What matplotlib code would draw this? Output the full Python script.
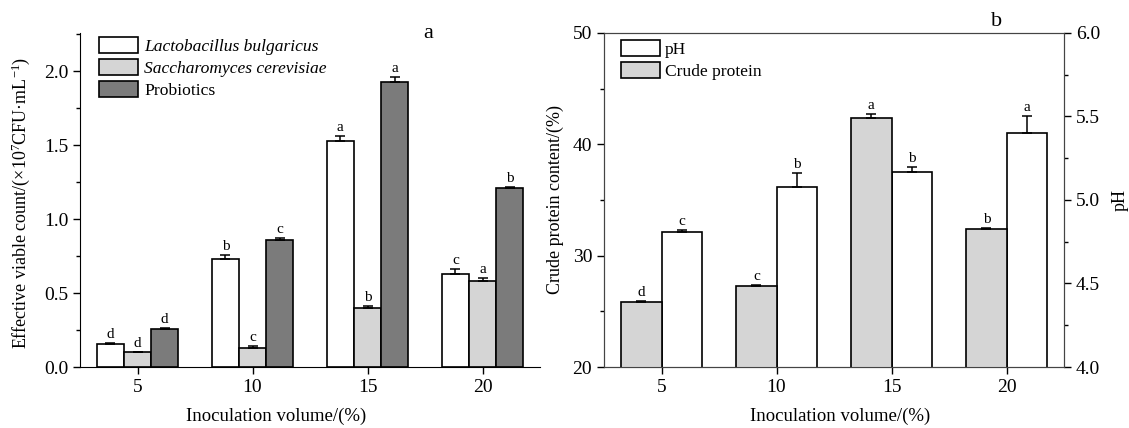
import matplotlib
matplotlib.use("Agg")
import matplotlib.pyplot as plt
import numpy as np

plt.rcParams['font.family'] = ['Liberation Serif', 'DejaVu Serif']
plt.rcParams['mathtext.fontset'] = 'custom'
plt.rcParams['mathtext.rm'] = 'Liberation Serif'
plt.rcParams['mathtext.it'] = 'Liberation Serif:italic'

volume = [5, 10, 15, 20]

# panel a: effective viable count (x10^7 CFU/mL)
lb_vals = [0.155, 0.73, 1.53, 0.63]
lb_err = [0.005, 0.03, 0.03, 0.03]
lb_letters = ['d', 'b', 'a', 'c']
sc_vals = [0.10, 0.13, 0.40, 0.58]
sc_err = [0.004, 0.01, 0.01, 0.02]
sc_letters = ['d', 'c', 'b', 'a']
pro_vals = [0.255, 0.86, 1.93, 1.21]
pro_err = [0.007, 0.01, 0.03, 0.005]
pro_letters = ['d', 'c', 'a', 'b']

# panel b: crude protein (%) and pH
cp_vals = [25.8, 27.3, 42.4, 32.4]
cp_err = [0.1, 0.1, 0.3, 0.1]
cp_letters = ['d', 'c', 'a', 'b']
ph_vals = [4.81, 5.08, 5.17, 5.40]
ph_err = [0.01, 0.08, 0.03, 0.10]
ph_letters = ['c', 'b', 'b', 'a']

W, H = 1129, 428
fig = plt.figure(figsize=(W / 100, H / 100), dpi=100)


def px_box(x0, x1, ytop, ybot):
    return [x0 / W, 1 - ybot / H, (x1 - x0) / W, (ybot - ytop) / H]


def bars(ax, x, vals, errs, letters, color, width, label):
    ax.bar(x, vals, width, color=color, edgecolor='black', linewidth=1.2, label=label, zorder=2)
    ax.errorbar(x, vals, yerr=[np.zeros(len(vals)), errs], fmt='none', ecolor='black',
                elinewidth=1.1, capsize=3.5, capthick=1.1, zorder=3)
    for xi, v, e, t in zip(x, vals, errs, letters):
        ax.annotate(t, (xi, v + e), xytext=(0, 1.5), textcoords='offset points',
                    ha='center', va='bottom', fontsize=11)


def style_axis(ax):
    ax.tick_params(axis='both', which='major', direction='out', length=5, width=1, labelsize=14)
    ax.tick_params(axis='y', which='minor', direction='out', length=3, width=1)
    ax.tick_params(axis='x', which='minor', bottom=False)


# ---------- panel a ----------
ax1 = fig.add_axes(px_box(80, 540, 33, 367))
x = np.array(volume, dtype=float)
bw = 1.18
bars(ax1, x - bw, lb_vals, lb_err, lb_letters, 'white', bw, 'Lactobacillus bulgaricus')
bars(ax1, x, sc_vals, sc_err, sc_letters, '#d5d5d5', bw, 'Saccharomyces cerevisiae')
bars(ax1, x + bw, pro_vals, pro_err, pro_letters, '#7b7b7b', bw, 'Probiotics')
ax1.set_xlim(2.5, 22.5)
ax1.set_ylim(0, 2.26)
ax1.set_xticks(volume)
ax1.set_yticks([0, 0.5, 1.0, 1.5, 2.0])
ax1.set_yticks(np.arange(0.25, 2.26, 0.5), minor=True)
ax1.yaxis.set_major_formatter(matplotlib.ticker.FormatStrFormatter('%.1f'))
ax1.spines['top'].set_visible(False)
ax1.spines['right'].set_visible(False)
style_axis(ax1)
fig.text(21 / W, 1 - 203 / H, 'Effective viable count/(×10$^{7}$CFU·mL$^{-1}$)', fontsize=13,
         rotation=90, ha='center', va='center')
fig.text(276 / W, 1 - 416 / H, 'Inoculation volume/(%)', fontsize=13.5, ha='center', va='center')
fig.text(428 / W, 1 - 33 / H, 'a', fontsize=16, ha='center', va='center')
leg1 = ax1.legend(loc='upper left', bbox_to_anchor=(99 / W, 1 - 37 / H),
                  bbox_transform=fig.transFigure, frameon=False, fontsize=12.6,
                  handlelength=2.2, handleheight=1.05, handletextpad=0.4,
                  labelspacing=0.22, borderpad=0, borderaxespad=0)
for t in leg1.get_texts()[:2]:
    t.set_style('italic')

# ---------- panel b ----------
ax2 = fig.add_axes(px_box(604, 1064, 33, 367))
ax3 = ax2.twinx()
bw2 = 1.75
bars(ax3, x + bw2 / 2, ph_vals, ph_err, ph_letters, 'white', bw2, 'pH')
bars(ax2, x - bw2 / 2, cp_vals, cp_err, cp_letters, '#d5d5d5', bw2, 'Crude protein')
ax2.set_zorder(ax3.get_zorder() + 1)
ax2.patch.set_visible(False)
ax2.set_xlim(2.5, 22.5)
ax2.set_ylim(20, 50)
ax3.set_ylim(4.0, 6.0)
ax2.set_xticks(volume)
ax2.set_yticks([20, 30, 40, 50])
ax2.set_yticks([25, 35, 45], minor=True)
ax3.set_yticks([4.0, 4.5, 5.0, 5.5, 6.0])
ax3.set_yticks([4.25, 4.75, 5.25, 5.75], minor=True)
ax3.yaxis.set_major_formatter(matplotlib.ticker.FormatStrFormatter('%.1f'))
style_axis(ax2)
style_axis(ax3)
for a in (ax2, ax3):
    for s in a.spines.values():
        s.set_color('#444444')
fig.text(555 / W, 1 - 200 / H, 'Crude protein content/(%)', fontsize=13,
         rotation=90, ha='center', va='center')
fig.text(1120 / W, 1 - 200 / H, 'pH', fontsize=13, rotation=90, ha='center', va='center')
fig.text(840 / W, 1 - 416 / H, 'Inoculation volume/(%)', fontsize=13.5, ha='center', va='center')
fig.text(997 / W, 1 - 21 / H, 'b', fontsize=16, ha='center', va='center')

h3, l3 = ax3.get_legend_handles_labels()
h2, l2 = ax2.get_legend_handles_labels()
ax2.legend(h3 + h2, l3 + l2, loc='upper left', bbox_to_anchor=(621 / W, 1 - 40 / H),
           bbox_transform=fig.transFigure, frameon=False, fontsize=12.6,
           handlelength=2.2, handleheight=1.05, handletextpad=0.3,
           labelspacing=0.22, borderpad=0, borderaxespad=0)

fig.savefig('out.png', dpi=100)
